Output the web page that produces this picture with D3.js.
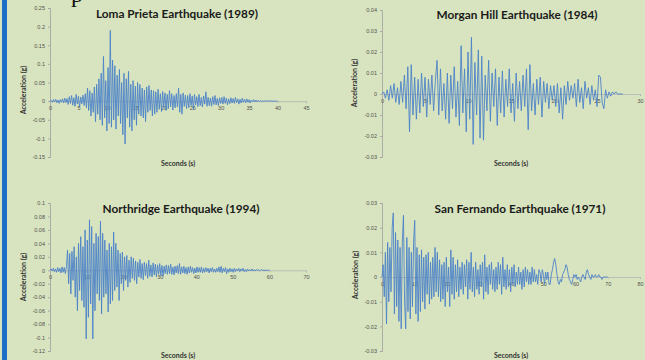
<!DOCTYPE html>
<html>
<head>
<meta charset="utf-8">
<script src="https://cdn.jsdelivr.net/npm/d3@7"></script>
<style>
  html, body { margin: 0; padding: 0; background: #d8e4bf; }
  svg { display: block; }
</style>
</head>
<body>
<div id="chart"></div>
<script>
// Ground acceleration records, in milli-g (0.001 g), one sample every `step` seconds
const lomaPrietaStep = 0.2
const lomaPrieta = [
  0, 2, -3, 4, -2, 5, -4, 3, -6, 4, -3, 6, -5, 8, -4, 7,
  -9, 12, -6, 15, -11, 9, -14, 18, -8, 13, -16, 11, -7, 16, -12,
  20, -18, 35, -25, 28, -40, 22, -30, 38, -55,
  45, -35, 60, -50, 75, -65, 120, -45, 55, -80,
  90, -60, 190, -70, 110, -50, 95, -75, 70, -40,
  85, -60, 50, -90, 75, -115, 60, -45, 80, -70,
  45, -80, 55, -50, 40, -65, 50, -35, 45, -40,
  35, -45, 30, -55, 38, -30, 42, -25, 30, -40,
  28, -35, 25, -30, 32, -22, 20, -28, 26, -18,
  22, -25, 18, -20, 28, -15, 20, -24, 15, -18,
  20, -16, 35, -30, 18, -35, 22, -14, 16, -20,
  15, -18, 20, -12, 14, -22, 18, -10, 12, -15,
  18, -12, 10, -16, 14, -8, 25, -14, 10, -12,
  8, -14, 12, -9, 15, -10, 7, -12, 9, -6,
  10, -8, 12, -6, 8, -10, 6, -7, 9, -5,
  7, -6, 10, -4, 6, -8, 5, -5, 8, -3,
  5, -4, 6, -3, 4, -5, 3, -2, 4, -2,
  3, -2, 2, -1, 2, -2, 1, -1, 1, 0,
  1, 0, 0, 1, 0, 0, 0, 0, 0, 0
]

const morganHillStep = 0.2
const morganHill = [
  0, 1, -2, 2, -3, 4, -2, 5, -4, 3, -5,
  6, -4, 9, -7, 13, -18, 14, -10, 8, -12,
  7, -9, 10, -6, 8, -11, 7, -5, 9, -8,
  6, 16, -10, 12, -8, 5, -12, 10, -14, 9,
  -7, 13, -11, 6, -15, 23, -9, 12, -18, 20,
  -12, 27, -24, 15, -10, 21, -21, 18, -22, 9,
  -8, 16, -13, 10, -6, 12, -15, 8, -9, 11,
  -11, 7, -6, 12, -9, 5, -13, 10, -7, 6,
  -8, 9, -6, 12, -17, 14, -8, 5, -10, 7,
  -5, 8, -11, 6, -4, 5, -7, 4, -3, 4,
  -6, 5, -9, 3, -12, 4, -5, 6, -3, 4,
  -2, 5, -6, 7, -4, 3, -7, 6, -2, 3,
  -5, 4, -3, 2, -6, 9, 8, -4, -7, 2,
  -2, 1, -1, 1, 0, 1, 0, 0, 0, 0
]

const northridgeStep = 0.3
const northridge = [
  0, 2, -1, 3, -2, 2, -3, 4, -2, 3, -4, 5, -3, 4, -5, 6,
  30, -20, 25, -35, 28, -15, 35, -40, 20, -60,
  40, -30, 50, -45, 35, -55, 60, -102, 45, -70,
  75, -50, 65, -102, 40, -60, 55, -35, 50, -45,
  73, -65, 55, -40, 45, -35, 30, -62, 40, -50,
  35, -45, 57, -30, 40, -25, 30, -45, 25, -20,
  27, -30, 20, -15, 22, -25, 15, -18, 20, -12,
  18, -15, 14, -20, 12, -10, 16, -12, 10, -14,
  12, -8, 10, -12, 15, -9, 8, -10, 11, -7,
  9, -10, 8, -6, 10, -8, 7, -9, 6, -5,
  8, -6, 7, -5, 9, -6, 5, -7, 6, -4,
  7, -5, 10, -6, 5, -4, 6, -5, 4, -6,
  5, -4, 6, -3, 4, -5, 3, -4, 5, -3,
  4, -3, 5, -4, 3, -3, 4, -2, 3, -4,
  3, -2, 4, -3, 2, -3, 3, -2, 5, -3,
  6, -4, 3, -2, 4, -5, 2, -3, 3, -2,
  2, -3, 3, -2, 2, -1, 3, -2, 2, -1,
  3, -2, 1, -2, 2, -1, 1, -1, 2, -1,
  1, -1, 1, 0, 1, -1, 0, 1, 0, 0,
  0, 0, 0, 0, 0
]

const sanFernandoStep = 0.35
const sanFernando = [
  0, 5, -8, 10, -19, 14, -10, 12, -6, 20, 26,
  -15, 18, -12, 15, -18, 12, -21, 14, 25, -10,
  -21, 16, -14, 12, -17, 10, -12, 14, 23, -15,
  12, -18, 9, -14, 11, -10, 8, -13, 9, -7,
  10, -11, 6, -9, 8, -8, 12, -6, 10, -8,
  7, -10, 5, -9, 6, -12, 8, -6, 4, -12,
  11, -7, 8, -9, 5, -6, 7, -8, 4, -5,
  6, -7, 5, -4, 7, -9, 6, -5, 10, -6,
  4, -8, 6, -5, 3, -7, 5, -4, 6, -9,
  9, -6, 4, -7, 5, -3, 6, -5, 3, -6,
  4, -5, 6, -3, 5, -7, 8, -4, 3, -5,
  5, -4, 3, -6, 4, -3, 5, -4, 2, -3,
  4, -3, 2, -5, 3, -4, 4, -2, 3, -3,
  2, -3, 4, -2, 3, -2, 1, -3, 3, 2,
  -2, 3, 1, -3, 2, -1, 2, -3, -3, 1,
  3, 6, 7.5, 5, 1, -2, -3, -1, -2, 1,
  2, 3, 5, 4, 1, -1, -2, -3, -1, 1,
  0, 1, -1, 0, -1, -2, 0, 1, 0, -1,
  2, 3, 1, 0, -1, 1, 0, 0, 1, 0,
  0, 1, 0, 0, -1, 0, 0, 0, 0, 0
]

// Titles and axis ticks
const titles = [
  'Loma Prieta Earthquake (1989)',
  'Morgan Hill Earthquake (1984)',
  'Northridge Earthquake (1994)',
  'San Fernando Earthquake (1971)'
]
const lomaPrietaYTicks = [-0.15, -0.1, -0.05, 0, 0.05, 0.1, 0.15, 0.2, 0.25]
const lomaPrietaXTicks = [0, 5, 10, 15, 20, 25, 30, 35, 40, 45]
const morganHillYTicks = [-0.03, -0.02, -0.01, 0, 0.01, 0.02, 0.03, 0.04]
const morganHillXTicks = [0, 5, 10, 15, 20, 25, 30]
const northridgeYTicks = [-0.12, -0.1, -0.08, -0.06, -0.04, -0.02, 0, 0.02, 0.04, 0.06, 0.08, 0.1]
const northridgeXTicks = [0, 10, 20, 30, 40, 50, 60, 70]
const sanFernandoYTicks = [-0.03, -0.02, -0.01, 0, 0.01, 0.02, 0.03]
const sanFernandoXTicks = [0, 10, 20, 30, 40, 50, 60, 70, 80]

const width = 645
const height = 360

const svg = d3.select('#chart')
  .append('svg')
  .attr('width', width)
  .attr('height', height)

svg.append('rect')
  .attr('width', width)
  .attr('height', height)
  .attr('fill', '#d8e4bf')

// blue slide edge on the left
svg.append('rect')
  .attr('x', 2)
  .attr('y', 0)
  .attr('width', 5)
  .attr('height', height)
  .attr('fill', '#1f6fc6')

// tail of the slide heading, cut off at the top
svg.append('text')
  .attr('x', 71)
  .attr('y', 2)
  .attr('font-family', 'Liberation Serif')
  .attr('font-size', 24)
  .attr('fill', '#111')
  .text('p')

const panels = [
  { values: lomaPrieta, step: lomaPrietaStep, yTicks: lomaPrietaYTicks, xTicks: lomaPrietaXTicks,
    left: 50, right: 306, top: 8, bottom: 157, titleX: 177, titleY: 18, yLabelY: 90, xLabelY: 166 },
  { values: morganHill, step: morganHillStep, yTicks: morganHillYTicks, xTicks: morganHillXTicks,
    left: 382, right: 640, top: 10, bottom: 157, titleX: 517, titleY: 19, yLabelX: 357, yLabelY: 83, xLabelY: 166 },
  { values: northridge, step: northridgeStep, yTicks: northridgeYTicks, xTicks: northridgeXTicks,
    left: 50, right: 306, top: 203, bottom: 351, titleX: 181, titleY: 213, yLabelY: 277, xLabelY: 358 },
  { values: sanFernando, step: sanFernandoStep, yTicks: sanFernandoYTicks, xTicks: sanFernandoXTicks,
    left: 382, right: 640, top: 203, bottom: 351, titleX: 520, titleY: 213, yLabelX: 358, yLabelY: 275, xLabelY: 358 }
]

const fmt = v => String(+v.toFixed(3))

panels.forEach((p, idx) => {
  const xScale = d3.scaleLinear()
    .domain([0, d3.max(p.xTicks)])
    .range([p.left, p.right])
  const yScale = d3.scaleLinear()
    .domain([d3.min(p.yTicks), d3.max(p.yTicks)])
    .range([p.bottom, p.top])

  const g = svg.append('g')

  // Y axis
  const yAxis = g.append('g')
    .attr('transform', `translate(${p.left},0)`)
    .call(d3.axisLeft(yScale).tickValues(p.yTicks).tickFormat(fmt).tickSize(2).tickPadding(3))
  yAxis.select('.domain').attr('stroke', '#a0a0a0').attr('stroke-width', 0.8)
  yAxis.selectAll('.tick line').attr('stroke', '#a0a0a0').attr('stroke-width', 0.8)
  yAxis.selectAll('.tick text')
    .attr('font-family', 'Liberation Sans')
    .attr('font-size', 5.5)
    .attr('fill', '#505050')

  // X axis sits on the zero line
  const xAxis = g.append('g')
    .attr('transform', `translate(0,${yScale(0)})`)
    .call(d3.axisBottom(xScale).tickValues(p.xTicks).tickSize(2).tickPadding(3))
  xAxis.select('.domain').attr('stroke', '#b4b4b4').attr('stroke-width', 0.8)
  xAxis.selectAll('.tick line').attr('stroke', '#b4b4b4').attr('stroke-width', 0.8)
  xAxis.selectAll('.tick text')
    .attr('font-family', 'Liberation Sans')
    .attr('font-size', 5.5)
    .attr('fill', '#505050')

  // Record
  const line = d3.line()
    .x((d, i) => xScale(i * p.step))
    .y(d => yScale(d / 1000))
  g.append('path')
    .datum(p.values)
    .attr('d', line)
    .attr('fill', 'none')
    .attr('stroke', '#4c82c8')
    .attr('stroke-width', 0.9)
    .attr('stroke-linejoin', 'round')

  // Title
  g.append('text')
    .attr('x', p.titleX)
    .attr('y', p.titleY)
    .attr('text-anchor', 'middle')
    .attr('font-family', 'Lato')
    .attr('font-weight', 'bold')
    .attr('font-size', 11.8)
    .attr('fill', '#1a1a1a')
    .text(titles[idx])

  // Axis titles
  g.append('text')
    .attr('x', (p.left + p.right) / 2)
    .attr('y', p.xLabelY)
    .attr('text-anchor', 'middle')
    .attr('font-family', 'Lato')
    .attr('font-weight', 'bold')
    .attr('font-size', 7)
    .attr('fill', '#333')
    .text('Seconds (s)')

  const ylx = p.yLabelX ?? 26
  g.append('text')
    .attr('transform', `translate(${ylx},${p.yLabelY}) rotate(-90)`)
    .attr('text-anchor', 'middle')
    .attr('font-family', 'Lato')
    .attr('font-weight', 'bold')
    .attr('font-size', 7)
    .attr('fill', '#333')
    .text('Acceleration (g)')
})
</script>
</body>
</html>
